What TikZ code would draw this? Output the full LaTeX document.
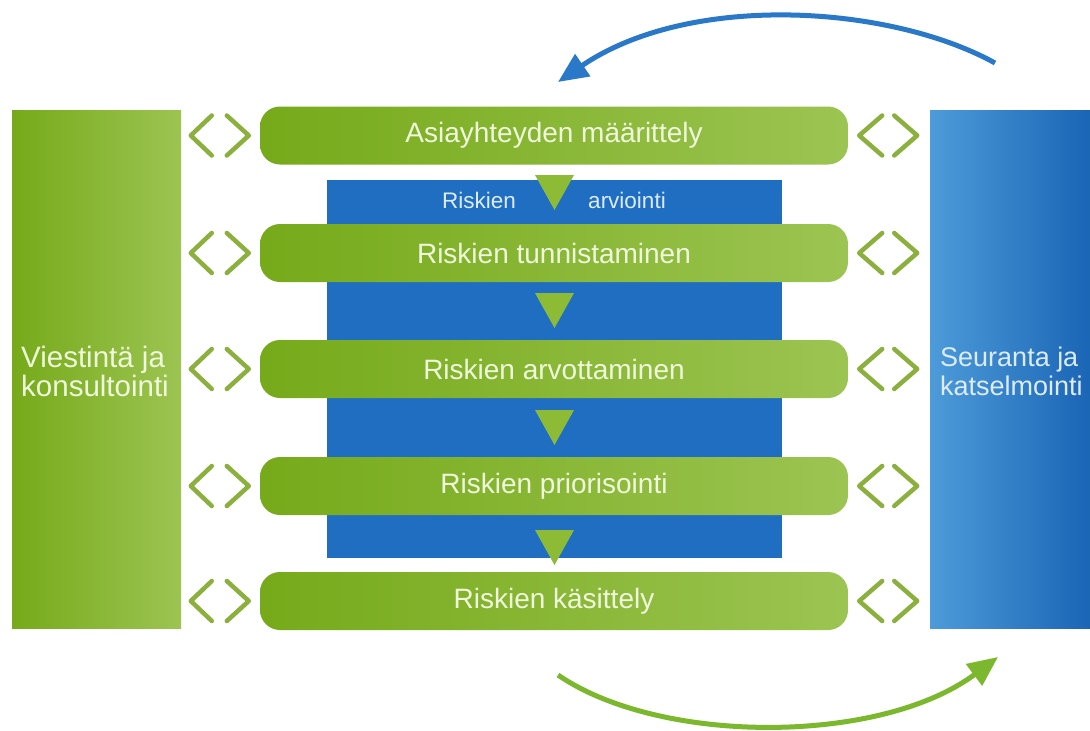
\documentclass[tikz,border=0pt]{standalone}
\usepackage{fontspec}
\setmainfont{Liberation Sans}
\usetikzlibrary{arrows.meta,calc}
\definecolor{gdark}{RGB}{118,170,26}
\definecolor{glight}{RGB}{156,196,82}
\definecolor{bmid}{RGB}{31,110,194}
\definecolor{bleft}{RGB}{77,155,217}
\definecolor{bright}{RGB}{26,101,181}
\definecolor{chev}{RGB}{140,176,62}
\definecolor{tri}{RGB}{141,187,54}
\definecolor{arrblue}{RGB}{42,120,200}
\definecolor{arrgreen}{RGB}{124,184,46}
\definecolor{gtext}{RGB}{240,248,220}
\definecolor{btext}{RGB}{220,236,252}
\tikzset{
  bar/.style={rounded corners=20pt, minimum width=588pt, minimum height=58pt,
    left color=gdark, right color=glight, draw=none, inner sep=0pt,
    text=gtext, font=\fontsize{28}{32}\selectfont},
  sidetext/.style={anchor=west, align=left, inner sep=0pt,
    font=\fontsize{29.5}{29}\selectfont},
  chevline/.style={draw=chev, line width=4.5pt, line cap=round, line join=round},
  tristyle/.style={fill=tri, draw=none},
  bigarrow/.style={line width=5pt, -{Triangle[length=30pt,width=26pt]}}
}
\begin{document}
\begin{tikzpicture}[x=1pt,y=-1pt]
\useasboundingbox (0,0) rectangle (1090,731);
\fill[white] (0,0) rectangle (1090,731);
% side boxes
\node[minimum width=169pt, minimum height=518pt, inner sep=0pt, left color=gdark, right color=glight] (left) at (96.5,369) {};
\node[minimum width=160pt, minimum height=518pt, inner sep=0pt, left color=bleft, right color=bright] (right) at (1010,369) {};
\node[sidetext, text=gtext] (ltxt) at (21,371) {Viestintä ja\\konsultointi};
\node[sidetext, text=btext, font=\fontsize{27}{29}\selectfont] (rtxt) at (940,371) {Seuranta ja\\katselmointi};
% blue assessment area
\node[fill=bmid, minimum width=455pt, minimum height=378pt, inner sep=0pt] (assess) at (554.5,369) {};
% bars
\node[bar] (b1) at (554,135.5) {Asiayhteyden määrittely};
\node[bar] (b2) at (554,253) {Riskien tunnistaminen};
\node[bar] (b3) at (554,369) {Riskien arvottaminen};
\node[bar] (b4) at (554,486) {Riskien priorisointi};
\node[bar] (b5) at (554,601) {Riskien käsittely};
% labels in blue area
\node[text=btext, font=\fontsize{22.5}{26}\selectfont, inner sep=0pt] (lr) at (479,200) {Riskien};
\node[text=btext, font=\fontsize{22.5}{26}\selectfont, inner sep=0pt] (la) at (627,200) {arviointi};
% triangles
\foreach \t in {175,293,410,530}{
  \fill[tristyle] (535,\t) -- (574,\t) -- (554.5,\t+35) -- cycle;
}
% chevrons
\foreach \b in {b1,b2,b3,b4,b5}{
  \draw[chevline] ($(\b.west)+(-48,-20)$) -- ($(\b.west)+(-69,0)$) -- ($(\b.west)+(-48,20)$);
  \draw[chevline] ($(\b.west)+(-33,-20)$) -- ($(\b.west)+(-11,0)$) -- ($(\b.west)+(-33,20)$);
  \draw[chevline] ($(\b.east)+(34,-20)$) -- ($(\b.east)+(11,0)$) -- ($(\b.east)+(34,20)$);
  \draw[chevline] ($(\b.east)+(46,-20)$) -- ($(\b.east)+(69,0)$) -- ($(\b.east)+(46,20)$);
}
% cycle arrows
\coordinate (ts) at (995,63);
\coordinate (te) at (558,82);
\coordinate (bs) at (558,675);
\coordinate (be) at (998,657);
\draw[bigarrow, draw=arrblue] (ts) .. controls (890,5) and (690,-8) .. (te);
\draw[bigarrow, draw=arrgreen] (bs) .. controls (660,745) and (880,745) .. (be);
\end{tikzpicture}
\end{document}
